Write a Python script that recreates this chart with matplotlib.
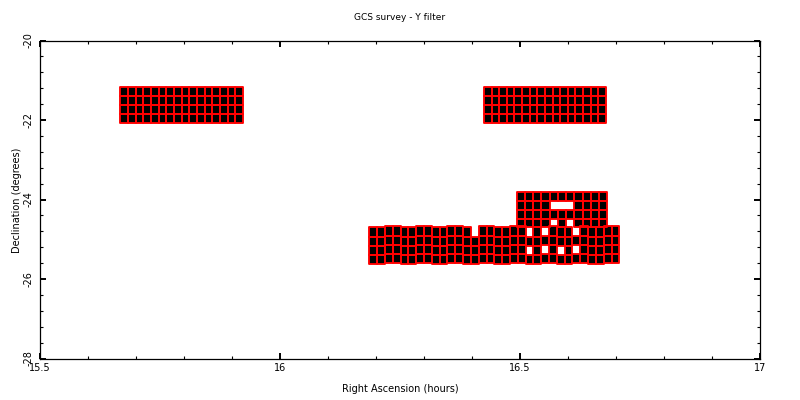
import matplotlib
matplotlib.use("Agg")
import matplotlib.pyplot as plt
from matplotlib.patches import Rectangle
from matplotlib.collections import PatchCollection
from matplotlib.ticker import MultipleLocator

title = "GCS survey - Y filter"
xlabel = "Right Ascension (hours)"
ylabel = "Declination (degrees)"

# Observed detector blocks (RA in hours, Dec in degrees)
block_ra_lo = [15.667, 16.425, 16.186, 16.493]
block_ra_hi = [15.923, 16.679, 16.707, 16.682]
block_dec_hi = [-21.16, -21.16, -24.70, -23.82]
block_dec_lo = [-22.08, -22.08, -25.63, -24.70]
block_ncols = [16, 16, 32, 11]
block_nrows = [4, 4, 4, 4]
# small Dec shift of alternate column pairs in the southern strip (deg)
strip_pair_shift = [0.0, 0.025] * 8
# detector cells not observed: (block, row, column)
missing_cells = [
    (2, 0, 13),
    (2, 0, 20), (2, 0, 22), (2, 0, 26),
    (2, 2, 20), (2, 2, 22), (2, 2, 24), (2, 2, 26),
    (3, 1, 4), (3, 1, 5), (3, 1, 6),
    (3, 3, 4), (3, 3, 6),
]

x_ticks = [15.5, 16, 16.5, 17]
x_ticklabels = ["15.5", "16", "16.5", "17"]
y_ticks = [-20, -22, -24, -26, -28]
y_ticklabels = ["-20", "-22", "-24", "-26", "-28"]

fig = plt.figure(figsize=(8, 4), dpi=100)
ax = fig.add_axes([0.05, 0.10375, 0.90, 0.795])

missing = set(missing_cells)
cells = []
draw_order = [3, 0, 1, 2]
for b in draw_order:
    w = (block_ra_hi[b] - block_ra_lo[b]) / block_ncols[b]
    h = (block_dec_hi[b] - block_dec_lo[b]) / block_nrows[b]
    for c in range(block_ncols[b]):
        shift = strip_pair_shift[c // 2] if b == 2 else 0.0
        for r in range(block_nrows[b]):
            if (b, r, c) in missing:
                continue
            x0 = block_ra_lo[b] + c * w
            ytop = block_dec_hi[b] + shift - r * h
            cells.append(Rectangle((x0, ytop - h), w, h))

faces = PatchCollection(cells, facecolor="black", edgecolor="none",
                        antialiased=False, zorder=2)
edges = PatchCollection(cells, facecolor="none", edgecolor="#ff0000",
                        linewidth=1.35, antialiased=True, zorder=3)
ax.add_collection(faces)
ax.add_collection(edges)

ax.set_xlim(15.5, 17)
ax.set_ylim(-28, -20)

ax.xaxis.set_major_locator(MultipleLocator(0.5))
ax.xaxis.set_minor_locator(MultipleLocator(0.1))
ax.yaxis.set_major_locator(MultipleLocator(2))
ax.yaxis.set_minor_locator(MultipleLocator(0.4))
ax.set_xticks(x_ticks)
ax.set_xticklabels(x_ticklabels)
ax.set_yticks(y_ticks)
ax.set_yticklabels(y_ticklabels)

ax.tick_params(which="both", direction="in", top=True, right=True,
               colors="black", labelsize=7)
ax.tick_params(which="major", length=4.5, width=1.4)
ax.tick_params(which="minor", length=2.2, width=0.8)
ax.tick_params(axis="x", pad=3.5)
ax.tick_params(axis="y", pad=5)
for lab in ax.get_yticklabels():
    lab.set_rotation(90)
    lab.set_va("center")
    lab.set_ha("right")

for s in ax.spines.values():
    s.set_linewidth(0.9)
    s.set_color("black")

fig.text(0.5, 0.955, title, ha="center", va="center", fontsize=6.5)
fig.text(0.5, 0.028, xlabel, ha="center", va="center", fontsize=7)
fig.text(0.021, 0.5, ylabel, ha="center", va="center", rotation=90, fontsize=7)

fig.savefig("out.png", dpi=100)
